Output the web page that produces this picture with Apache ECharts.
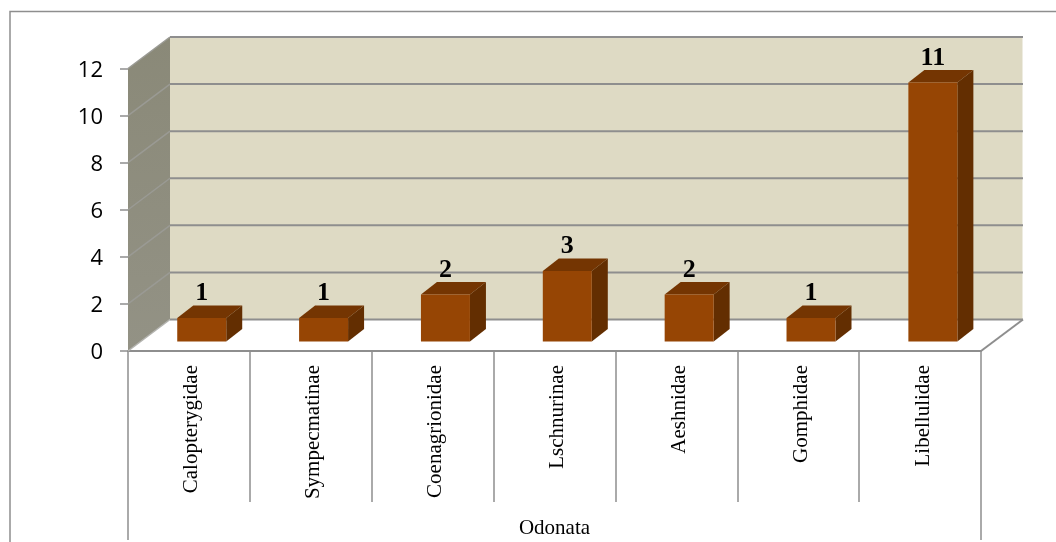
<!DOCTYPE html>
<html><head><meta charset="utf-8">
<style>html,body{margin:0;padding:0;background:#fff}#c{width:1056px;height:542px}</style>
<script src="https://cdn.jsdelivr.net/npm/echarts@6/dist/echarts.min.js"></script>
</head><body><div id="c"></div>
<script>
const categories = ['Calopterygidae','Sympecmatinae','Coenagrionidae','Lschnurinae','Aeshnidae','Gomphidae','Libellulidae'];
const groupLabels = ['Odonata'];
const counts = [1,1,2,3,2,1,11];
const yTicks = [0,2,4,6,8,10,12];

const GRAY = '#8e8e8e';
const DEPTH_X = 42, DEPTH_Y = 31.5;
const chart = echarts.init(document.getElementById('c'), null, {renderer:'canvas'});

function wallItem(params, api){
  const r = params.coordSys;
  const l = r.x, rgt = r.x + r.width, t = r.y, b = r.y + r.height;
  return {type:'group', children:[
    {type:'polygon', shape:{points:[[l,b],[l,t],[l+DEPTH_X,t-DEPTH_Y],[l+DEPTH_X,b-DEPTH_Y]]},
      style:{fill:new echarts.graphic.LinearGradient(0,0,0,1,[{offset:0,color:'#8a8978'},{offset:1,color:'#939285'}])}},
    {type:'rect', shape:{x:l+DEPTH_X,y:t-DEPTH_Y,width:r.width-0.5,height:r.height}, style:{fill:'#dedac4'}},
    {type:'polyline', shape:{points:[[l,b],[l+DEPTH_X,b-DEPTH_Y]]}, style:{stroke:'#b4b4b0',lineWidth:1.5,fill:null}},
    {type:'polyline', shape:{points:[[rgt,b],[rgt+DEPTH_X,b-DEPTH_Y]]}, style:{stroke:GRAY,lineWidth:2,fill:null}}
  ]};
}
function gridItem(params, api){
  const r = params.coordSys;
  const y = api.coord([0, api.value(1)])[1];
  const l = r.x, rgt = r.x + r.width;
  if (api.value(1) === 0) {
    return {type:'polyline', shape:{points:[[l+DEPTH_X,y-DEPTH_Y],[rgt+DEPTH_X,y-DEPTH_Y]]}, style:{stroke:GRAY,lineWidth:2,fill:null}};
  }
  return {type:'group', children:[
    {type:'polyline', shape:{points:[[l,y],[l+DEPTH_X,y-DEPTH_Y]]}, style:{stroke:'#9a9a94',lineWidth:1.5,fill:null}},
    {type:'polyline', shape:{points:[[l+DEPTH_X,y-DEPTH_Y],[rgt+DEPTH_X,y-DEPTH_Y]]}, style:{stroke:GRAY,lineWidth:2,fill:null}}
  ]};
}
function barItem(params, api){
  const cat = api.value(0), val = api.value(1);
  const top = api.coord([cat,val]), base = api.coord([cat,0]);
  const band = api.size([1,0])[0];
  const w = band*0.402, dx = 12.8, dy = 9.5, sx = 16, sy = 12.5;
  const x0 = top[0]-w/2+dx, x1 = x0+w, yT = top[1]-dy, yB = base[1]-dy;
  return {type:'group', children:[
    {type:'polygon', shape:{points:[[x0,yT],[x1,yT],[x1+sx,yT-sy],[x0+sx,yT-sy]]}, style:{fill:'#743502'}},
    {type:'polygon', shape:{points:[[x1,yT],[x1+sx,yT-sy],[x1+sx,yB-sy],[x1,yB]]}, style:{fill:'#632e01'}},
    {type:'rect', shape:{x:x0,y:yT,width:w,height:yB-yT}, style:{fill:'#964504'}},
    {type:'text', x:x0+w/2, y:yT-sy+1, style:{text:String(val),fill:'#000',
      font:'bold 26px "Liberation Serif"',textAlign:'center',textVerticalAlign:'bottom'}}
  ]};
}

chart.setOption({
  animation:false,
  backgroundColor:'#fff',
  grid:{left:128,right:75,top:68.5,bottom:191,containLabel:false},
  graphic:[{type:'polyline',shape:{points:[[10,542],[10,11.5],[1056,11.5]]},style:{stroke:GRAY,lineWidth:1.5,fill:null},silent:true}],
  xAxis:[
    {type:'category',data:categories,position:'bottom',
      axisLine:{show:true,lineStyle:{color:GRAY,width:2}},
      axisTick:{show:true,length:151,alignWithLabel:false,lineStyle:{color:GRAY,width:1.5}},
      axisLabel:{interval:0,rotate:90,margin:14,color:'#000',fontFamily:'Liberation Serif',fontSize:21,verticalAlign:'top',lineHeight:6},
      splitLine:{show:false}},
    {type:'category',data:groupLabels,position:'bottom',
      axisLine:{show:false},
      axisTick:{show:true,length:189,alignWithLabel:false,lineStyle:{color:GRAY,width:1.5}},
      axisLabel:{interval:0,margin:167,color:'#000',fontFamily:'Liberation Serif',fontSize:21},
      splitLine:{show:false}}
  ],
  yAxis:{type:'value',min:0,max:12,interval:2,
    axisLine:{show:false},
    axisTick:{show:true,length:8,lineStyle:{color:GRAY,width:1.5}},
    axisLabel:{margin:25,color:'#000',fontFamily:'Open Sans',fontSize:22,verticalAlign:'top',lineHeight:4},
    splitLine:{show:false}},
  series:[
    {type:'custom',z:1,silent:true,data:[[0,0]],renderItem:wallItem,clip:false},
    {type:'custom',z:2,silent:true,data:yTicks.map(v=>[0,v]),renderItem:gridItem,clip:false},
    {type:'custom',z:3,silent:true,data:counts.map((v,i)=>[i,v]),renderItem:barItem,clip:false}
  ]
});
</script></body></html>
